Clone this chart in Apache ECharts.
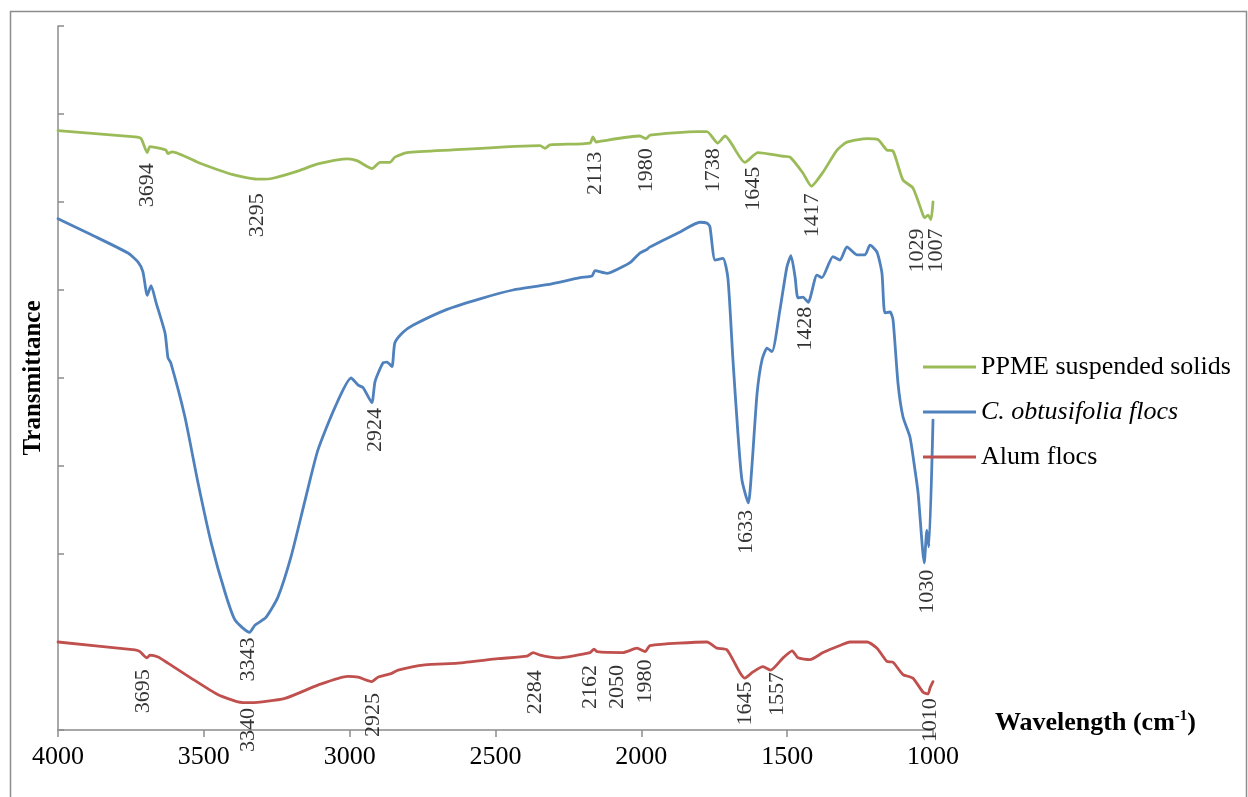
<!DOCTYPE html>
<html>
<head>
<meta charset="utf-8">
<script src="https://cdn.jsdelivr.net/npm/echarts@6/dist/echarts.min.js"></script>
<style>
html,body{margin:0;padding:0;background:#fff;}
#chart{width:1248px;height:797px;}
</style>
</head>
<body>
<div id="chart"></div>
<script>
// ---------- DATA ----------
const xTicks = [4000, 3500, 3000, 2500, 2000, 1500, 1000];
const seriesNames = ['PPME suspended solids', 'C. obtusifolia flocs', 'Alum flocs'];

// PPME suspended solids (green)
const ppmeWn = [4000,3736,3715,3694,3685,3650,3630,3623,3609,3513,3400,3318,3295,3263,3170,3112,3006,2975,2923,2896,2862,2845,2803,2656,2347,2330,2313,2176,2166,2155,2142,2005,1984,1970,1806,1775,1738,1713,1645,1600,1514,1490,1446,1417,1377,1329,1295,1226,1189,1158,1137,1103,1069,1034,1029,1017,1007,1000];
const ppmeT  = [6.81,6.74,6.72,6.56,6.63,6.61,6.59,6.55,6.57,6.44,6.31,6.26,6.26,6.27,6.36,6.43,6.49,6.47,6.38,6.45,6.45,6.51,6.56,6.59,6.64,6.61,6.65,6.67,6.74,6.68,6.69,6.75,6.72,6.76,6.80,6.80,6.67,6.75,6.45,6.56,6.52,6.51,6.33,6.18,6.34,6.59,6.68,6.72,6.71,6.59,6.58,6.25,6.16,5.85,5.82,5.85,5.80,6.00];

// C. obtusifolia flocs (blue)
const cobWn = [4000,3887,3760,3726,3709,3694,3681,3664,3633,3623,3613,3565,3520,3475,3427,3393,3343,3325,3287,3246,3201,3153,3109,3050,2995,2971,2954,2924,2913,2886,2872,2855,2845,2817,2783,2666,2553,2440,2323,2210,2169,2159,2118,2073,2039,2005,1981,1970,1867,1799,1775,1765,1747,1720,1703,1686,1669,1655,1633,1621,1603,1586,1569,1552,1525,1501,1487,1473,1463,1446,1428,1398,1381,1343,1319,1295,1261,1233,1216,1192,1175,1165,1147,1137,1120,1103,1079,1062,1051,1030,1021,1014,1000];
const cobT  = [5.81,5.63,5.42,5.32,5.21,4.94,5.05,4.86,4.51,4.23,4.17,3.56,2.81,2.13,1.56,1.25,1.11,1.19,1.28,1.51,1.97,2.61,3.18,3.67,4.00,3.92,3.89,3.72,3.96,4.17,4.18,4.13,4.40,4.52,4.60,4.78,4.90,5.00,5.06,5.14,5.16,5.22,5.19,5.25,5.31,5.42,5.46,5.49,5.66,5.77,5.76,5.72,5.34,5.36,5.13,4.21,3.38,2.84,2.58,2.99,3.83,4.21,4.34,4.30,4.77,5.26,5.39,5.15,4.91,4.92,4.86,5.17,5.14,5.38,5.34,5.49,5.40,5.40,5.51,5.43,5.19,4.74,4.75,4.66,3.94,3.56,3.33,2.96,2.69,1.90,2.27,2.08,3.52];

// Alum flocs (red)
const alumWn = [4000,3736,3719,3695,3685,3657,3623,3544,3451,3383,3340,3222,3109,3006,2971,2925,2903,2858,2834,2742,2629,2491,2392,2371,2347,2289,2176,2162,2152,2063,2015,1987,1970,1775,1741,1706,1645,1617,1583,1557,1514,1483,1463,1422,1377,1319,1285,1226,1192,1158,1137,1103,1069,1034,1017,1010,1000];
const alumT  = [1.00,0.91,0.89,0.82,0.85,0.83,0.76,0.59,0.40,0.32,0.31,0.36,0.51,0.61,0.60,0.55,0.60,0.64,0.68,0.74,0.76,0.81,0.84,0.88,0.85,0.82,0.88,0.92,0.89,0.88,0.93,0.89,0.96,1.00,0.93,0.91,0.59,0.66,0.72,0.68,0.82,0.90,0.82,0.80,0.88,0.96,1.00,1.00,0.93,0.78,0.77,0.63,0.59,0.43,0.41,0.48,0.55];

// Peak labels: text, and [wavenumber, transmittance] of the label's upper end
const ppmePeakText = ['3694','3295','2113','1980','1738','1645','1417','1029','1007'];
const ppmePeakPos  = [[3694,6.44],[3318,6.10],[2159,6.57],[1984,6.61],[1754,6.61],[1617,6.40],[1415,6.10],[1055,5.70],[988,5.70]];
const cobPeakText  = ['3343','2924','1633','1428','1030'];
const cobPeakPos   = [[3349,1.05],[2913,3.66],[1641,2.50],[1439,4.81],[1021,1.82]];
const alumPeakText = ['3695','3340','2925','2284','2162','2050','1980','1645','1557','1010'];
const alumPeakPos  = [[3709,0.69],[3349,0.25],[2920,0.42],[2365,0.68],[2176,0.74],[2083,0.74],[1987,0.80],[1645,0.55],[1535,0.66],[1010,0.36]];

// ---------- CHART ----------
const FONT = '"Liberation Serif","Times New Roman",serif';
const colors = ['#9BBB59', '#4F81BD', '#C0504D'];
const zip = (a, b) => a.map((v, i) => [v, b[i]]);

function lineSeries(name, wn, t, color) {
  return {
    name: name, type: 'line', data: zip(wn, t), showSymbol: false, symbol: 'none',
    smooth: 0.2,
    lineStyle: { color: color, width: 2.8, join: 'round', cap: 'round' },
    itemStyle: { color: color }, silent: true, animation: false, z: 3
  };
}
function labelSeries(texts, pos) {
  return {
    type: 'scatter', symbolSize: 0, silent: true, animation: false, z: 4, clip: false,
    data: pos.map((p, i) => ({ value: p, name: texts[i] })),
    labelLayout: { hideOverlap: false },
    label: {
      show: true, position: 'inside', formatter: '{b}', rotate: 90,
      align: 'right', verticalAlign: 'middle',
      fontFamily: FONT, fontSize: 22, color: '#000'
    }
  };
}

const chart = echarts.init(document.getElementById('chart'), null, { renderer: 'canvas' });
chart.setOption({
  backgroundColor: '#fff',
  animation: false,
  grid: { left: 58, right: 315, top: 26, bottom: 67, containLabel: false },
  xAxis: {
    type: 'value', inverse: true, min: 1000, max: 4000, interval: 500,
    axisLine: { show: true, lineStyle: { color: '#8c8c8c', width: 1.5 } },
    axisTick: { show: true, length: 7, lineStyle: { color: '#8c8c8c', width: 1.5 } },
    splitLine: { show: false },
    axisLabel: {
      margin: 14, fontFamily: FONT, fontSize: 26, color: '#000',
      formatter: v => (xTicks.indexOf(v) >= 0 ? String(v) : '')
    }
  },
  yAxis: {
    type: 'value', min: 0, max: 8, interval: 1,
    name: 'Transmittance', nameLocation: 'middle', nameRotate: 90, nameGap: 12,
    nameTextStyle: { fontFamily: FONT, fontSize: 25, fontWeight: 'bold', color: '#000' },
    axisLine: { show: true, lineStyle: { color: '#8c8c8c', width: 1.5 } },
    axisTick: { show: true, inside: true, length: 6, lineStyle: { color: '#8c8c8c', width: 1.5 } },
    axisLabel: { show: false },
    splitLine: { show: false }
  },
  legend: {
    orient: 'vertical', left: 918, top: 349,
    data: seriesNames,
    icon: 'rect', itemWidth: 53, itemHeight: 3, itemGap: 19,
    textStyle: {
      fontFamily: FONT, fontSize: 26, color: '#000', lineHeight: 26,
      rich: { it: { fontFamily: FONT, fontSize: 26, fontStyle: 'italic', color: '#000', lineHeight: 26 } }
    },
    formatter: n => (n === 'C. obtusifolia flocs' ? '{it|' + n + '}' : n),
    selectedMode: false
  },
  graphic: [
    {
      type: 'rect', silent: true, z: -1,
      shape: { x: 10.5, y: 11.5, width: 1236, height: 800 },
      style: { fill: 'none', stroke: '#8c8c8c', lineWidth: 1.5 }
    },
    {
      type: 'text', left: 995, top: 706, silent: true,
      style: {
        text: '{b|Wavelength (cm}{s|-1}{b|)}',
        rich: {
          b: { fontFamily: FONT, fontSize: 26, fontWeight: 'bold', fill: '#000', lineHeight: 30, verticalAlign: 'bottom' },
          s: { fontFamily: FONT, fontSize: 15, fontWeight: 'bold', fill: '#000', lineHeight: 30, verticalAlign: 'top', padding: [3, 0, 0, 0] }
        }
      }
    }
  ],
  series: [
    lineSeries(seriesNames[0], ppmeWn, ppmeT, colors[0]),
    lineSeries(seriesNames[1], cobWn, cobT, colors[1]),
    lineSeries(seriesNames[2], alumWn, alumT, colors[2]),
    labelSeries(ppmePeakText, ppmePeakPos),
    labelSeries(cobPeakText, cobPeakPos),
    labelSeries(alumPeakText, alumPeakPos)
  ]
});
</script>
</body>
</html>
